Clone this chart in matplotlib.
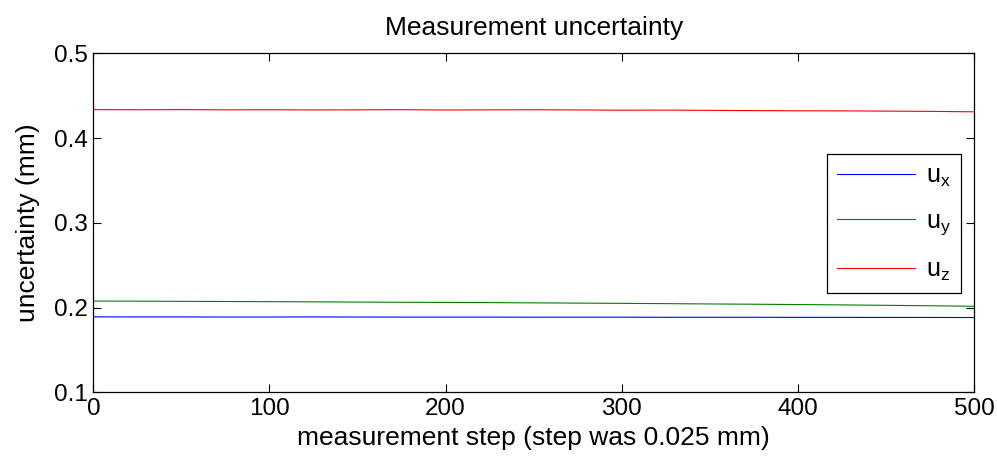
import numpy as np
import matplotlib
matplotlib.use('Agg')
import matplotlib.pyplot as plt

# values, one sample every 25 steps
steps = list(range(0, 501, 25))
u_x = [0.1892, 0.1891, 0.1891, 0.1890, 0.1890, 0.1891, 0.1890, 0.1889, 0.1889, 0.1889, 0.1888,
       0.1888, 0.1888, 0.1887, 0.1887, 0.1887, 0.1886, 0.1886, 0.1885, 0.1885, 0.1884]
u_y = [0.2078, 0.2077, 0.2075, 0.2073, 0.2071, 0.2069, 0.2066, 0.2064, 0.2062, 0.2060, 0.2057,
       0.2054, 0.2051, 0.2048, 0.2044, 0.2041, 0.2037, 0.2033, 0.2028, 0.2023, 0.2017]
u_z = [0.4336, 0.4334, 0.4336, 0.4333, 0.4334, 0.4332, 0.4333, 0.4335, 0.4331, 0.4333, 0.4334,
       0.4332, 0.4329, 0.4330, 0.4327, 0.4324, 0.4322, 0.4321, 0.4318, 0.4315, 0.4310]

plt.rcParams['font.family'] = ['Liberation Sans', 'DejaVu Sans']
plt.rcParams['mathtext.default'] = 'regular'

fig = plt.figure(figsize=(9.97, 4.61), dpi=100)
ax = fig.add_axes([0.0936, 0.1486, 0.8834, 0.7358])

ax.plot(steps, u_x, color='#0000ff', lw=0.8, label='u$_x$')
ax.plot(steps, u_y, color='#008000', lw=0.8, label='u$_y$')
ax.plot(steps, u_z, color='#ff0000', lw=0.8, label='u$_z$')

ax.set_xlim(0, 500)
ax.set_ylim(0.1, 0.5)
ax.set_xticks([0, 100, 200, 300, 400, 500])
ax.set_yticks([0.1, 0.2, 0.3, 0.4, 0.5])
ax.tick_params(direction='in', length=6, width=0.8, top=True, right=True, labelsize=17.5, pad=4)
for s in ax.spines.values():
    s.set_linewidth(0.9)

ax.set_xlabel('measurement step (step was 0.025 mm)', fontsize=19, labelpad=4)
ax.set_ylabel('uncertainty (mm)', fontsize=19, labelpad=10)
ax.set_title('Measurement uncertainty', fontsize=19, pad=13)

leg = ax.legend(loc='upper right', bbox_to_anchor=(0.985, 0.703), borderaxespad=0,
                fontsize=18, handlelength=3.1, handletextpad=0.45, labelspacing=0.8,
                borderpad=0.4, fancybox=False, edgecolor='black', framealpha=1)
leg.get_frame().set_linewidth(0.9)

fig.savefig('out.png', dpi=100)
